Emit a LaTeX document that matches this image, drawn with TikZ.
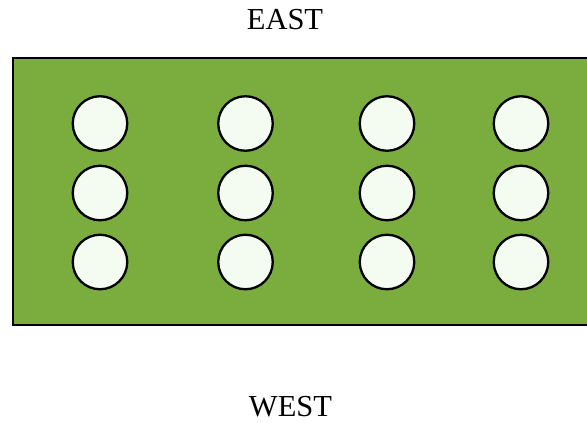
\documentclass[tikz,border=0pt]{standalone}
\usepackage{fontspec}
\setmainfont{Liberation Serif}
\definecolor{fieldgreen}{RGB}{122,173,62}
\definecolor{holefill}{RGB}{244,252,242}
\begin{document}
\begin{tikzpicture}[x=1pt,y=-1pt,
  hole/.style={circle, draw=black, line width=2.3pt, fill=holefill, minimum size=54.5pt, inner sep=0pt},
  side/.style={anchor=base, font=\fontsize{30.5}{36}\selectfont}]
  \useasboundingbox (0,0) rectangle (587,423);
  \clip (0,0) rectangle (587,423);
  % the field
  \draw[line width=2.6pt, fill=fieldgreen] (13,58) rectangle (600,325);
  % three rows of four holes
  \foreach \c/\x in {1/100,2/245.5,3/387,4/521}{
    \foreach \r/\y in {1/123.5,2/193,3/262}{
      \node[hole] (h\r\c) at (\x,\y) {};
    }
  }
  \node[side] (east) at (285,29) {EAST};
  \node[side] (west) at (290.5,416) {WEST};
\end{tikzpicture}
\end{document}
